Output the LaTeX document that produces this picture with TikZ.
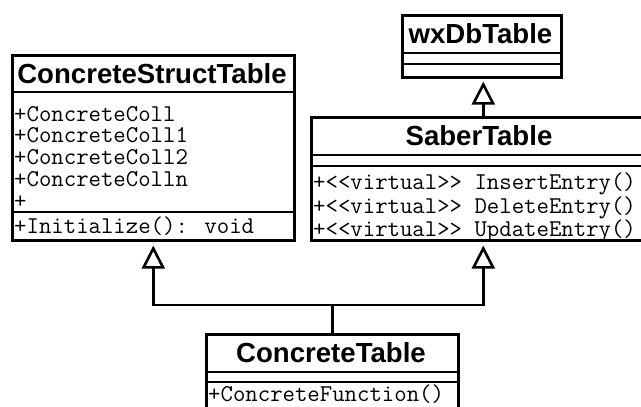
\documentclass[tikz,border=0pt]{standalone}
\usepackage{fontspec}
\usetikzlibrary{arrows.meta}
\newfontfamily\umlsans{Liberation Sans}

\tikzset{
  umlbox/.style={draw, line width=2.6pt, inner sep=0pt, anchor=north west},
  umlname/.style={font=\fontsize{27.6}{30}\selectfont\umlsans\bfseries, inner sep=0pt},
  umlmembers/.style={font=\fontsize{24.1}{21.7}\selectfont\ttfamily, inner sep=0pt, anchor=north west, align=left},
  umlsep/.style={line width=2.2pt},
  inherit/.style={line width=2.6pt},
  inherittip/.style={inherit, -{Triangle[open, length=23pt, width=23pt]}},
}

\begin{document}
\begin{tikzpicture}[x=1pt, y=-1pt]
  \clip (0,0) rectangle (641,407);
  \fill[white] (0,0) rectangle (641,407);

  % class boxes
  \node[umlbox, minimum width=282pt, minimum height=185pt] (cst) at (11,54) {};
  \node[umlbox, minimum width=159pt, minimum height=62pt] (wxdb) at (401,14) {};
  \node[umlbox, minimum width=344pt, minimum height=123pt] (saber) at (310,116) {};
  \node[umlbox, minimum width=252pt, minimum height=90pt] (ct) at (205,333) {};

  % compartments
  \foreach \b/\y in {cst/92, cst/212, wxdb/53, wxdb/64, saber/155, saber/166, ct/372, ct/382}
    \draw[umlsep] (\b.west |- 0,\y) -- (\b.east |- 0,\y);

  % names
  \node[umlname] (cstname) at (152,74) {ConcreteStructTable};
  \node[umlname] (wxdbname) at (480.5,34) {wxDbTable};
  \node[umlname] (sabername) at (479,136) {SaberTable};
  \node[umlname] (ctname) at (331,353) {ConcreteTable};

  % members
  \node[umlmembers] (cstattr) at (14,106) {+ConcreteColl\\+ConcreteColl1\\+ConcreteColl2\\+ConcreteColln\\+};
  \node[umlmembers, anchor=base west] (cstops) at (14,233) {+Initialize(): void};
  \node[umlmembers] (saberops) at (313,173) {+<{}<virtual>{}> InsertEntry()\\+<{}<virtual>{}> DeleteEntry()\\+<{}<virtual>{}> UpdateEntry()};
  \node[umlmembers, anchor=base west] (ctops) at (208,401) {+ConcreteFunction()};

  % generalisations
  \draw[inherit] (ct.north) -- (ct.north |- 0,305) coordinate (fork);
  \draw[inherittip, shorten >=4pt] (fork) -| (cst.south);
  \draw[inherittip, shorten >=4pt] (fork) -| (saber.south);
  \draw[inherittip, shorten >=3pt] (saber.north) -- (saber.north |- wxdb.south);
\end{tikzpicture}
\end{document}
